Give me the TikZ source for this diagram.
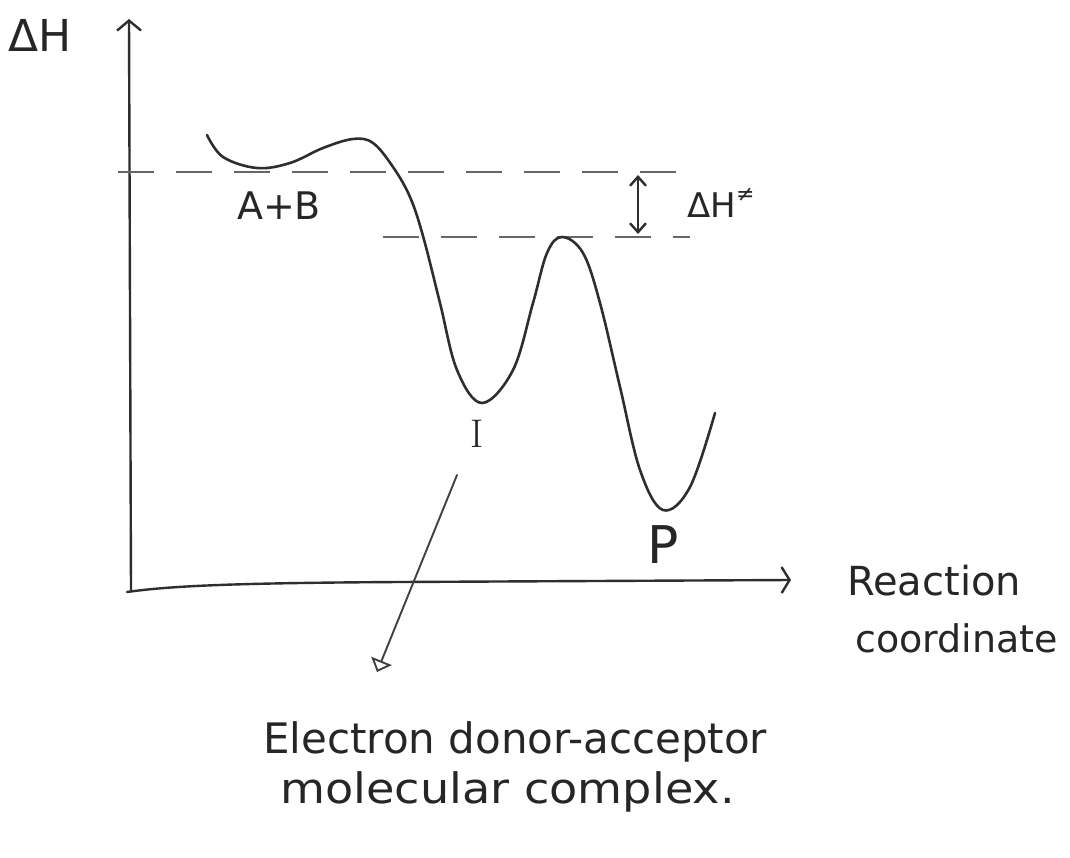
\documentclass[tikz,border=0pt]{standalone}
\usepackage{fontspec}
\usepackage{graphicx}
\newfontfamily\hand{DejaVu Sans}
\usetikzlibrary{arrows.meta}
\begin{document}
\begin{tikzpicture}[x=1pt,y=-1pt,
  ink/.style={draw=black!82, line width=2.6pt, line cap=round, line join=round},
  axisline/.style={draw=black!82, line width=2.4pt, line cap=round, line join=round},
  pointer/.style={draw=black!75, line width=1.9pt, line cap=round},
  guide/.style={draw=black!60, line width=1.7pt, dash pattern=on 36pt off 22pt},
  lbl/.style={inner sep=0pt, text=black!85},
]
\fill[white] (0,0) rectangle (1070,858);
\useasboundingbox (0,0) rectangle (1070,858);

% axes
\coordinate (O) at (131,590);
\coordinate (ytop) at (129,19);
\coordinate (xstart) at (127,592);
\coordinate (xend) at (791,580);
\draw[axisline, -{Straight Barb[length=10pt,width=24pt]}] (O) -- (ytop);
\draw[axisline, -{Straight Barb[length=8pt,width=26pt]}] (xstart) .. controls (170,586) and (230,583) .. (400,582) -- (xend);

% dashed levels
\coordinate (d1a) at (118,172);
\coordinate (d1b) at (690,172);
\coordinate (d2a) at (383,237);
\coordinate (d2b) at (690,237);
\draw[guide] (d1a) -- (d1b);
\draw[guide] (d2a) -- (d2b);

% energy curve
\draw[ink] plot[smooth, tension=0.6] coordinates {
  (207,135) (223,157) (257,168) (290,163) (323,148) (353,139) (373,143)
  (393,167) (410,197) (423,236) (440,303) (457,370) (482,403) (513,370)
  (533,303) (547,253) (562,237) (583,253) (600,303) (620,387) (640,470)
  (663,510) (690,487) (715,413)};

% activation arrow
\coordinate (ha) at (638,175);
\coordinate (hb) at (638,234);
\draw[axisline, {Straight Barb[length=9pt,width=16pt]}-{Straight Barb[length=9pt,width=16pt]}] (ha) -- (hb);

% labels
\node[lbl, font={\hand\fontsize{44}{48}\selectfont}, anchor=base west] (dH) at (8,52) {ΔH};
\node[lbl, font={\hand\fontsize{38}{42}\selectfont}] (AB) at (279,206) {A+B};
\node[lbl, font={\fontsize{40}{44}\selectfont}] (I) at (477,434) {I};
\node[lbl, font={\hand\fontsize{52}{56}\selectfont}] (P) at (663,545) {P};
\node[lbl, font={\hand\fontsize{34}{38}\selectfont}, anchor=base west] (dHa) at (687,218)
  {ΔH\raisebox{16pt}{\fontsize{22}{22}\selectfont ≠}};
\node[lbl, font={\hand\fontsize{40}{44}\selectfont}, anchor=base west] (rc1) at (847,595) {Reaction};
\node[lbl, font={\hand\fontsize{38}{42}\selectfont}, anchor=base west] (rc2) at (855,652) {coordinate};
\node[lbl, font={\hand\fontsize{42}{46}\selectfont}, anchor=base west] (el1) at (263,753) {Electron donor-acceptor};
\node[lbl, font={\hand\fontsize{42}{46}\selectfont}, anchor=base west] (el2) at (280,803) {\scalebox{1.1}[1]{molecular complex.}};

% pointer to intermediate
\coordinate (ptA) at (457,475);
\coordinate (ptB) at (377,672);
\draw[pointer, -{Triangle[open, length=12pt, width=22pt]}] (ptA) -- (ptB);
\end{tikzpicture}
\end{document}
